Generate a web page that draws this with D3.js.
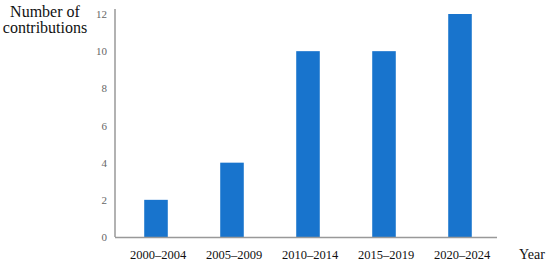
<!DOCTYPE html>
<html>
<head>
<meta charset="utf-8">
<script src="https://cdn.jsdelivr.net/npm/d3@7"></script>
<style>
  html, body { margin: 0; padding: 0; background: #fff; }
  svg { display: block; font-family: "Liberation Serif", "DejaVu Serif", serif; }
</style>
</head>
<body>
<svg id="chart" width="550" height="264"></svg>
<script>
// periods and number of contributions per period
var periods = ["2000–2004", "2005–2009", "2010–2014", "2015–2019", "2020–2024"],
    contributions = [2, 4, 10, 10, 12],
    yTicks = [0, 2, 4, 6, 8, 10, 12];

var svg = d3.select("#chart");

var x = d3.scaleBand()
    .domain(periods)
    .range([118, 498])
    .paddingInner(0.69)
    .paddingOuter(0.345);

var y = d3.scaleLinear()
    .domain([0, 12])
    .range([237, 14]);

// bars
svg.append("g")
    .selectAll("rect")
    .data(periods)
    .join("rect")
    .attr("x", function (d) { return x(d); })
    .attr("y", function (d, i) { return y(contributions[i]); })
    .attr("width", x.bandwidth())
    .attr("height", function (d, i) { return y(0) - y(contributions[i]); })
    .attr("fill", "#1874cd");

// y axis
var yAxis = svg.append("g")
    .attr("transform", "translate(115,0)")
    .call(d3.axisLeft(y).tickValues(yTicks).tickSize(0).tickPadding(8));
yAxis.select(".domain").remove();
yAxis.selectAll("text")
    .attr("fill", "#666")
    .style("font-family", "Liberation Serif, serif")
    .style("font-size", "11px");
svg.append("line")
    .attr("x1", 115).attr("x2", 115)
    .attr("y1", 9).attr("y2", y(0))
    .attr("stroke", "#999").attr("stroke-width", 1.5);

// x axis
var xAxis = svg.append("g")
    .attr("transform", "translate(0," + y(0) + ")")
    .call(d3.axisBottom(x).tickSize(0).tickPadding(13));
xAxis.select(".domain").remove();
xAxis.selectAll("text")
    .attr("fill", "#111")
    .attr("dx", 2)
    .style("font-family", "Liberation Serif, serif")
    .style("font-size", "12.5px");
svg.append("line")
    .attr("x1", 115).attr("x2", 497)
    .attr("y1", y(0) + 0.5).attr("y2", y(0) + 0.5)
    .attr("stroke", "#999").attr("stroke-width", 1.5);

// axis titles
svg.append("text")
    .attr("x", 45).attr("y", 17)
    .attr("text-anchor", "middle")
    .style("font-size", "16px")
    .attr("fill", "#111")
    .text("Number of");
svg.append("text")
    .attr("x", 45).attr("y", 33)
    .attr("text-anchor", "middle")
    .style("font-size", "16px")
    .attr("fill", "#111")
    .text("contributions");
svg.append("text")
    .attr("x", 519).attr("y", 259)
    .style("font-size", "14px")
    .attr("fill", "#111")
    .text("Year");
</script>
</body>
</html>
